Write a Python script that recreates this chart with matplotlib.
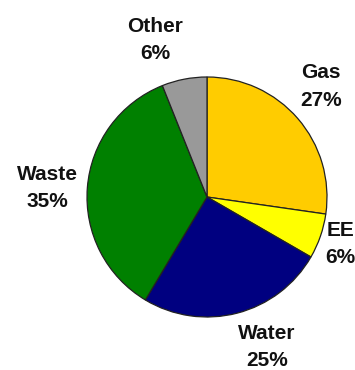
import matplotlib
matplotlib.use("Agg")
import matplotlib.pyplot as plt

# Share of spending by category
categories = ["Gas", "EE", "Water", "Waste", "Other"]
shares = [27, 6, 25, 35, 6]
pct_labels = ["27%", "6%", "25%", "35%", "6%"]
colors = ["#FFCC00", "#FFFF00", "#000080", "#008000", "#999999"]

# Label anchor points in axes data units (pie radius = 1)
label_pos = {
    "Gas": (0.95, 0.92),
    "EE": (1.11, -0.39),
    "Water": (0.50, -1.25),
    "Waste": (-1.33, 0.075),
    "Other": (-0.43, 1.31),
}

W, H = 355, 370
fig = plt.figure(figsize=(W / 100, H / 100), dpi=100)
fig.patch.set_facecolor("white")

cx, cy, r = 207, H - 197, 120
ax = fig.add_axes([(cx - r) / W, (cy - r) / H, 2 * r / W, 2 * r / H])

ax.pie(shares, colors=colors, startangle=90, counterclock=False, radius=1,
       wedgeprops=dict(edgecolor="#222222", linewidth=0.9))
ax.set_xlim(-1, 1)
ax.set_ylim(-1, 1)
ax.set_aspect("equal")
ax.axis("off")

font = dict(family=["Liberation Sans", "DejaVu Sans"], fontsize=15,
            fontweight="bold", color="#111111", ha="center", va="center")
half_gap = 0.115
for name, pct in zip(categories, pct_labels):
    x, y = label_pos[name]
    ax.text(x, y + half_gap, name, clip_on=False, **font)
    ax.text(x, y - half_gap, pct, clip_on=False, **font)

fig.savefig("out.png", dpi=100, facecolor="white")
